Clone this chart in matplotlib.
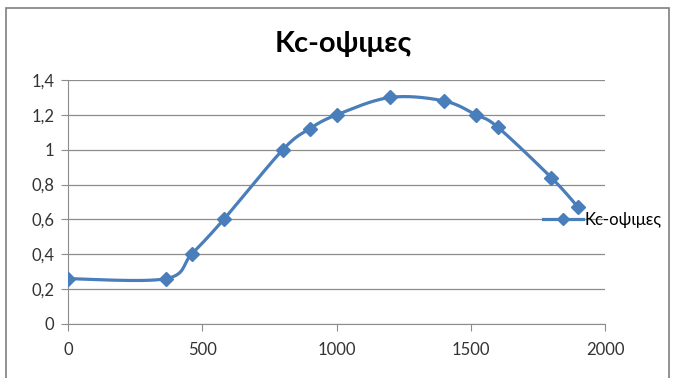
import matplotlib.pyplot as plt
import numpy as np
from matplotlib.patches import Rectangle
from matplotlib.ticker import FuncFormatter

days = [0, 365, 460, 580, 800, 900, 1000, 1200, 1400, 1520, 1600, 1800, 1900]
kc = [0.26, 0.26, 0.40, 0.60, 1.00, 1.12, 1.20, 1.30, 1.28, 1.20, 1.13, 0.84, 0.67]
series_name = 'Kc-οψιμες'

blue = '#4A7EBB'
plt.rcParams['font.family'] = ['Lato', 'DejaVu Sans']


def smooth(x, y, xspan, yspan, n=30):
    # Bezier smoothing through the points, control points from neighbours (1/6 rule)
    px = np.asarray(x, float) / xspan
    py = np.asarray(y, float) / yspan
    P = np.column_stack([px, py])
    P = np.vstack([P[0], P, P[-1]])
    out = []
    t = np.linspace(0, 1, n)[:, None]
    for i in range(1, len(P) - 2):
        p0, p1, p2, p3 = P[i - 1], P[i], P[i + 1], P[i + 2]
        c1 = p1 + (p2 - p0) / 6
        c2 = p2 - (p3 - p1) / 6
        seg = ((1 - t) ** 3) * p1 + 3 * ((1 - t) ** 2) * t * c1 + 3 * (1 - t) * t ** 2 * c2 + t ** 3 * p2
        out.append(seg)
    out = np.vstack(out)
    return out[:, 0] * xspan, out[:, 1] * yspan


fig = plt.figure(figsize=(6.75, 3.78), dpi=100)
ax = fig.add_axes([68 / 675, 1 - 324 / 378, 537 / 675, 244 / 378])

sx, sy = smooth(days, kc, 537 / 2000, 244 / 1.4)
ax.plot(sx, sy, color=blue, lw=2.3, solid_capstyle='round', zorder=3)
ax.plot(days, kc, ls='none', marker='D', ms=7, color=blue, zorder=4)

ax.set_xlim(0, 2000)
ax.set_ylim(0, 1.4)
ax.set_xticks(np.arange(0, 2001, 500))
ax.set_yticks(np.arange(0, 1.41, 0.2))
ax.yaxis.set_major_formatter(FuncFormatter(lambda v, p: ('%g' % round(v, 1)).replace('.', ',')))
ax.grid(axis='y', color='#8c8c8c', lw=0.9)
ax.set_axisbelow(True)
for s in ['top', 'right']:
    ax.spines[s].set_visible(False)
for s in ['left', 'bottom']:
    ax.spines[s].set_color('#8c8c8c')
ax.tick_params(axis='both', colors='#8c8c8c', labelcolor='#333333', labelsize=12, length=5)
ax.tick_params(axis='x', pad=8)
ax.tick_params(axis='y', pad=5)

fig.text(343 / 675, 1 - 44 / 378, series_name, ha='center', va='center',
         fontsize=21, fontweight='bold', color='black')

ln = plt.Line2D([], [], color=blue, lw=2.3, marker='D', ms=6)
fig.legend([ln], [series_name], loc='center left', bbox_to_anchor=(543 / 675, 1 - 220 / 378),
           frameon=False, fontsize=12, handlelength=2.4, handletextpad=0.1,
           borderpad=0, borderaxespad=0)

fig.patches.append(Rectangle((6 / 675, -0.05), 663 / 675, 1.05 - 8 / 378,
                             transform=fig.transFigure, fill=False,
                             edgecolor='#7f7f7f', lw=1.2))

fig.savefig('out.png', dpi=100)
